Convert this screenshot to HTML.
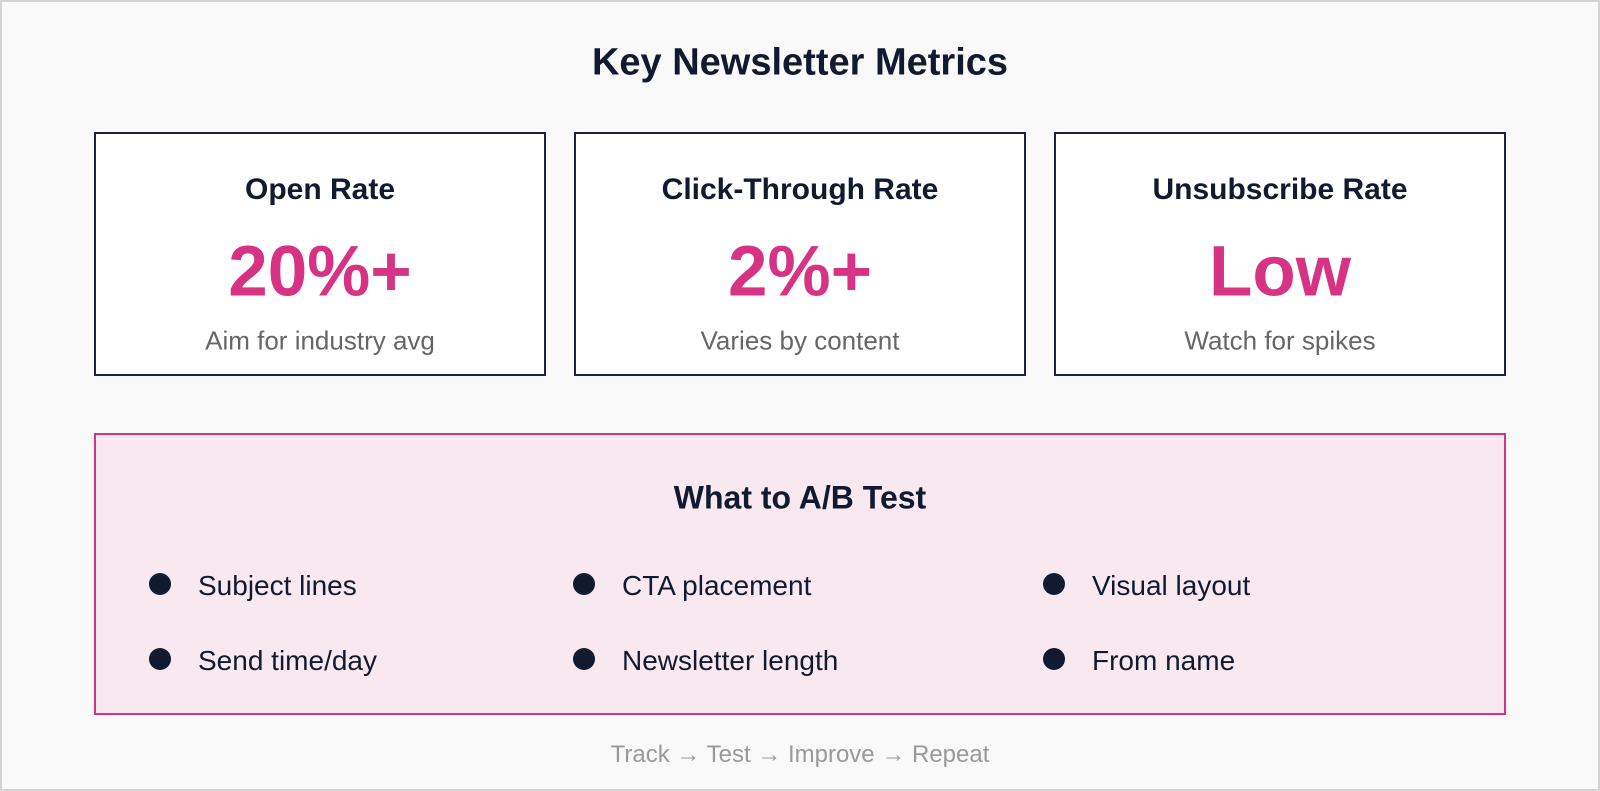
<!DOCTYPE html>
<html><head><meta charset="utf-8"><style>
*{margin:0;padding:0;box-sizing:border-box}
body{width:1600px;height:791px;background:#fff;font-family:"Liberation Sans",Arial,sans-serif;position:relative;overflow:hidden}
.frame{position:absolute;left:0;top:0;width:1600px;height:791px;background:#f9f9f9;border:2px solid #d4d4d4}
.t{position:absolute;width:100%;text-align:center;transform:translateY(-50%);white-space:nowrap}
.card{position:absolute;top:132px;width:452px;height:244px;background:#fff;border:2px solid #1a2233}
.card .h{position:absolute;width:100%;text-align:center;top:56px;transform:translateY(-50%);font-weight:bold;font-size:30px;color:#111a2e}
.card .v{position:absolute;width:100%;text-align:center;top:138px;transform:translateY(-50%);font-weight:bold;font-size:71px;color:#d63384}
.card .s{position:absolute;width:100%;text-align:center;top:207px;transform:translateY(-50%);font-size:26px;color:#666}
.pink{position:absolute;left:94px;top:433px;width:1412px;height:282px;background:#f8e9f1;border:2px solid #d63384}
.it{position:absolute;font-size:28px;color:#111a2e;transform:translateY(-50%);white-space:nowrap}
.dot{position:absolute;width:22px;height:22px;border-radius:50%;background:#111a2e;transform:translate(-50%,-50%)}
</style></head><body>
<div class="frame"></div>
<div class="t" style="top:63px;font-size:38px;font-weight:bold;color:#111a2e">Key Newsletter Metrics</div>
<div class="card" style="left:94px"><div class="h">Open Rate</div><div class="v">20%+</div><div class="s">Aim for industry avg</div></div>
<div class="card" style="left:574px"><div class="h">Click-Through Rate</div><div class="v">2%+</div><div class="s">Varies by content</div></div>
<div class="card" style="left:1054px"><div class="h">Unsubscribe Rate</div><div class="v">Low</div><div class="s">Watch for spikes</div></div>
<div class="pink"></div>
<div class="t" style="top:498px;font-size:32px;font-weight:bold;color:#111a2e">What to A/B Test</div>
<div class="dot" style="left:160px;top:584px"></div><div class="it" style="left:198px;top:586px">Subject lines</div>
<div class="dot" style="left:584px;top:584px"></div><div class="it" style="left:622px;top:586px">CTA placement</div>
<div class="dot" style="left:1054px;top:584px"></div><div class="it" style="left:1092px;top:586px">Visual layout</div>
<div class="dot" style="left:160px;top:659px"></div><div class="it" style="left:198px;top:661px">Send time/day</div>
<div class="dot" style="left:584px;top:659px"></div><div class="it" style="left:622px;top:661px">Newsletter length</div>
<div class="dot" style="left:1054px;top:659px"></div><div class="it" style="left:1092px;top:661px">From name</div>
<div class="t" style="top:755px;font-size:24px;color:#999">Track → Test → Improve → Repeat</div>
</body></html>
